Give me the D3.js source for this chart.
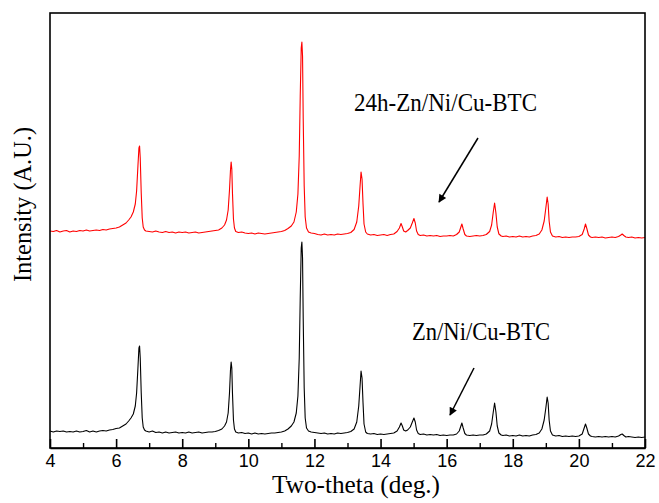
<!DOCTYPE html>
<html>
<head>
<meta charset="utf-8">
<script src="https://cdn.jsdelivr.net/npm/d3@7/dist/d3.min.js"></script>
<style>
  html, body { margin: 0; padding: 0; background: #fff; }
  svg { display: block; }
</style>
</head>
<body>
<svg id="chart" width="659" height="503"></svg>
<script>
// ---- Data ----
const xTicks = [4, 6, 8, 10, 12, 14, 16, 18, 20, 22];
const xMinorTicks = [5, 7, 9, 11, 13, 15, 17, 19, 21];

// Zn/Ni/Cu-BTC : [2θ, intensity (a.u.)]
const seriesPristine = [
  [4.0,17],[4.1,16],[4.2,17],[4.3,16.5],[4.4,17],[4.5,16],[4.6,16.5],[4.7,16],[4.8,17],[4.9,16],
  [5.0,16.5],[5.1,17.5],[5.2,16],[5.3,17],[5.4,16],[5.5,17],[5.6,17.5],[5.7,17],[5.8,18],[5.9,18.5],
  [6.0,19.5],[6.1,20],[6.2,22],[6.3,24],[6.38,27],[6.45,30],[6.52,34],[6.58,42],[6.62,55],[6.66,80],
  [6.69,100],[6.71,102],[6.73,90],[6.76,55],[6.79,30],[6.82,21],[6.86,18],[6.9,17],[7.0,16],[7.1,17],
  [7.2,15.5],[7.3,16],[7.4,15],[7.5,16],[7.6,15],[7.7,15.5],[7.8,16],[7.9,15],[8.0,15.5],[8.1,15],
  [8.2,16],[8.3,15],[8.4,15.5],[8.5,16],[8.6,15],[8.7,15.5],[8.8,16],[8.9,16],[9.0,16.5],[9.1,17.5],
  [9.2,19],[9.28,22],[9.34,26],[9.39,35],[9.43,55],[9.46,78],[9.48,86],[9.5,80],[9.52,55],[9.55,28],
  [9.58,19],[9.62,16],[9.7,15],[9.8,15.5],[9.9,14.5],[10.0,15],[10.1,14],[10.2,15],[10.3,14],[10.4,14.5],
  [10.5,14],[10.6,14.5],[10.7,15],[10.8,15],[10.9,15.5],[11.0,16],[11.1,17],[11.2,19],[11.3,22],[11.38,26],
  [11.45,35],[11.5,52],[11.54,90],[11.57,150],[11.6,200],[11.62,206],[11.64,190],[11.66,130],[11.69,60],[11.72,30],
  [11.76,20],[11.82,17],[11.9,16],[12.0,15.5],[12.1,15],[12.2,14.5],[12.3,15],[12.4,14],[12.5,14.5],[12.6,14],
  [12.7,15],[12.8,14.5],[12.9,15],[13.0,15.5],[13.1,16.5],[13.2,19],[13.28,26],[13.34,42],[13.38,62],[13.41,77],
  [13.44,70],[13.47,45],[13.5,24],[13.55,16],[13.6,14.5],[13.7,14],[13.8,14.5],[13.9,13.5],[14.0,14],[14.1,13.5],
  [14.2,14],[14.3,14.5],[14.4,15],[14.5,17],[14.57,21],[14.62,25],[14.66,22],[14.7,18],[14.76,17],[14.82,18],
  [14.9,21],[14.96,26],[15.01,30],[15.05,26],[15.09,18],[15.14,14.5],[15.2,13.5],[15.3,14],[15.4,13],[15.5,13.5],
  [15.6,13],[15.7,13.5],[15.8,12.5],[15.9,13],[16.0,12.5],[16.1,13],[16.2,13],[16.3,14],[16.38,17],[16.43,22],
  [16.46,25],[16.5,20],[16.55,14.5],[16.6,13],[16.7,12.5],[16.8,13],[16.9,12.5],[17.0,13],[17.1,13],[17.2,14],
  [17.3,17],[17.36,24],[17.41,36],[17.45,45],[17.49,36],[17.53,22],[17.58,15],[17.65,13],[17.7,12.5],[17.8,13],
  [17.9,12],[18.0,12.5],[18.1,12],[18.2,13],[18.3,12],[18.4,12.5],[18.5,12],[18.6,13],[18.7,13.5],[18.8,15],
  [18.88,19],[18.95,28],[19.0,40],[19.04,51],[19.07,45],[19.1,28],[19.14,17],[19.2,13],[19.3,12],[19.4,12.5],
  [19.5,11.5],[19.6,12],[19.7,11.5],[19.8,12],[19.9,11.5],[20.0,12],[20.1,14],[20.16,20],[20.2,24],[20.24,20],
  [20.29,14],[20.35,12],[20.4,11.5],[20.5,11],[20.6,11.5],[20.7,11],[20.8,11.5],[20.9,11],[21.0,11.5],[21.1,11],
  [21.2,12],[21.27,13.5],[21.31,14],[21.36,12.5],[21.42,11],[21.5,11.5],[21.6,11],[21.7,10.5],[21.8,11],[21.9,10.5],
  [22.0,11]
];

// 24h-Zn/Ni/Cu-BTC : [2θ, intensity (a.u.)]
const series24h = [
  [4.0,217],[4.1,216.5],[4.2,217.5],[4.3,216],[4.4,217],[4.5,217.5],[4.6,216],[4.7,217],[4.8,216.5],[4.9,217.5],
  [5.0,217],[5.1,218],[5.2,217],[5.3,217.5],[5.4,218],[5.5,217.5],[5.6,218.5],[5.7,218],[5.8,219],[5.9,219.5],
  [6.0,220],[6.1,221],[6.2,223],[6.3,225],[6.38,228],[6.45,231],[6.52,236],[6.58,244],[6.62,257],[6.66,282],
  [6.69,300],[6.71,302],[6.73,290],[6.76,255],[6.79,230],[6.82,221],[6.86,218],[6.9,217],[7.0,216.5],[7.1,216],
  [7.2,217],[7.3,216],[7.4,215.5],[7.5,216.5],[7.6,215.5],[7.7,216],[7.8,215],[7.9,216],[8.0,215.5],[8.1,216],
  [8.2,215],[8.3,215.5],[8.4,216],[8.5,215],[8.6,215.5],[8.7,216],[8.8,216.5],[8.9,217],[9.0,217.5],[9.1,218],
  [9.2,220],[9.28,223],[9.34,228],[9.39,238],[9.43,258],[9.46,278],[9.48,286],[9.5,279],[9.52,255],[9.55,229],
  [9.58,220],[9.62,216.5],[9.7,215.5],[9.8,216],[9.9,215],[10.0,214.5],[10.1,215],[10.2,214],[10.3,215],[10.4,214.5],
  [10.5,214],[10.6,214.5],[10.7,215],[10.8,215.5],[10.9,216],[11.0,216.5],[11.1,217.5],[11.2,219.5],[11.3,222],[11.38,226],
  [11.45,236],[11.5,254],[11.54,292],[11.57,352],[11.6,400],[11.62,406],[11.64,392],[11.66,330],[11.69,262],[11.72,231],
  [11.76,220],[11.82,216],[11.9,215],[12.0,214.5],[12.1,213.5],[12.2,213],[12.3,214],[12.4,213],[12.5,213.5],[12.6,213],
  [12.7,214],[12.8,213.5],[12.9,214],[13.0,214.5],[13.1,215.5],[13.2,218.5],[13.28,226],[13.34,242],[13.38,262],[13.41,276],
  [13.44,269],[13.47,244],[13.5,224],[13.55,216],[13.6,214],[13.7,213],[13.8,213.5],[13.9,212.5],[14.0,213],[14.1,213.5],
  [14.2,212.5],[14.3,213.5],[14.4,214],[14.5,216.5],[14.57,220],[14.62,224.5],[14.66,221],[14.7,217],[14.76,216],[14.82,217.5],
  [14.9,220],[14.96,225],[15.01,229.5],[15.05,225],[15.09,217],[15.14,213.5],[15.2,212.5],[15.3,213],[15.4,212],[15.5,212.5],
  [15.6,212],[15.7,212.5],[15.8,211.5],[15.9,212],[16.0,212],[16.1,212.5],[16.2,212],[16.3,213.5],[16.38,216],[16.43,221],
  [16.46,224],[16.5,219],[16.55,213.5],[16.6,212],[16.7,211.5],[16.8,212],[16.9,212.5],[17.0,212],[17.1,212.5],[17.2,213.5],
  [17.3,216.5],[17.36,223],[17.41,236],[17.45,245],[17.49,235],[17.53,221],[17.58,214],[17.65,212],[17.7,211.5],[17.8,212],
  [17.9,211],[18.0,211.5],[18.1,211],[18.2,212],[18.3,211],[18.4,211.5],[18.5,211],[18.6,212],[18.7,212.5],[18.8,214],
  [18.88,218],[18.95,227],[19.0,240],[19.04,251],[19.07,244],[19.1,227],[19.14,216],[19.2,212],[19.3,211],[19.4,211.5],
  [19.5,210.5],[19.6,211],[19.7,210.5],[19.8,211],[19.9,211],[20.0,211.5],[20.1,213.5],[20.16,219],[20.2,224],[20.24,219.5],
  [20.29,213],[20.35,211],[20.4,210.5],[20.5,211],[20.6,210.5],[20.7,211],[20.8,210],[20.9,210.5],[21.0,211],[21.1,210.5],
  [21.2,211.5],[21.27,213],[21.31,214],[21.36,212.5],[21.42,211],[21.5,210.5],[21.6,211],[21.7,210],[21.8,210.5],[21.9,210],
  [22.0,210.5]
];

const labels = ["24h-Zn/Ni/Cu-BTC", "Zn/Ni/Cu-BTC"];
const xTitle = "Two-theta (deg.)";
const yTitle = "Intensity (A.U.)";

// ---- Layout ----
const svg = d3.select("#chart");
const plotLeft = 50, plotRight = 645, plotTop = 13, plotBottom = 448;

const x = d3.scaleLinear().domain([4, 22]).range([plotLeft, plotRight]);
const y = d3.scaleLinear().domain([0, 435]).range([plotBottom, plotTop]);

const line = d3.line().x(d => x(d[0])).y(d => y(d[1]));

// curves
svg.append("path").datum(series24h)
  .attr("d", line).attr("fill", "none")
  .attr("stroke", "#ff0000").attr("stroke-width", 1.1).attr("stroke-linejoin", "round");
svg.append("path").datum(seriesPristine)
  .attr("d", line).attr("fill", "none")
  .attr("stroke", "#000").attr("stroke-width", 1.1).attr("stroke-linejoin", "round");

// frame
svg.append("rect")
  .attr("x", plotLeft).attr("y", plotTop)
  .attr("width", plotRight - plotLeft).attr("height", plotBottom - plotTop)
  .attr("fill", "none").attr("stroke", "#000").attr("stroke-width", 1.6);

// x axis (ticks inward)
const xAxis = svg.append("g").attr("transform", `translate(0,${plotBottom})`)
  .call(d3.axisBottom(x).tickValues(xTicks).tickSizeInner(-9).tickSizeOuter(0).tickPadding(6)
    .tickFormat(d3.format("d")));
xAxis.select(".domain").attr("stroke-width", 1.6);
xAxis.selectAll(".tick line").attr("stroke-width", 1.6);
xAxis.selectAll(".tick text")
  .attr("font-family", "'Liberation Sans', Arial, sans-serif")
  .attr("font-size", 18).attr("fill", "#000");

const xMinor = svg.append("g").attr("transform", `translate(0,${plotBottom})`)
  .call(d3.axisBottom(x).tickValues(xMinorTicks).tickSizeInner(-5).tickSizeOuter(0).tickFormat(""));
xMinor.select(".domain").remove();
xMinor.selectAll(".tick line").attr("stroke-width", 1.4);

// axis titles
svg.append("text")
  .attr("x", 272).attr("y", 493)
  .attr("font-family", "'Liberation Serif', 'Times New Roman', serif")
  .attr("font-size", 25)
  .attr("textLength", 168).attr("lengthAdjust", "spacingAndGlyphs")
  .text(xTitle);

svg.append("text")
  .attr("transform", "translate(31,282) rotate(-90)")
  .attr("font-family", "'Liberation Serif', 'Times New Roman', serif")
  .attr("font-size", 25)
  .attr("textLength", 155).attr("lengthAdjust", "spacingAndGlyphs")
  .text(yTitle);

// series labels
svg.append("text")
  .attr("x", 354).attr("y", 111)
  .attr("font-family", "'Liberation Serif', 'Times New Roman', serif")
  .attr("font-size", 26)
  .attr("textLength", 183).attr("lengthAdjust", "spacingAndGlyphs")
  .text(labels[0]);

svg.append("text")
  .attr("x", 412).attr("y", 340)
  .attr("font-family", "'Liberation Serif', 'Times New Roman', serif")
  .attr("font-size", 25)
  .attr("textLength", 138).attr("lengthAdjust", "spacingAndGlyphs")
  .text(labels[1]);

// arrows
const defs = svg.append("defs");
defs.append("marker")
  .attr("id", "arrowhead")
  .attr("viewBox", "0 0 10 10").attr("refX", 9).attr("refY", 5)
  .attr("markerWidth", 11).attr("markerHeight", 8)
  .attr("markerUnits", "userSpaceOnUse")
  .attr("orient", "auto")
  .append("path").attr("d", "M0,0 L10,5 L0,10 Z").attr("fill", "#000");

const arrows = [
  { x1: 478, y1: 138, x2: 439, y2: 202 },
  { x1: 474, y1: 368, x2: 450, y2: 415 }
];
svg.selectAll("line.arrow").data(arrows).enter().append("line")
  .attr("class", "arrow")
  .attr("x1", d => d.x1).attr("y1", d => d.y1)
  .attr("x2", d => d.x2).attr("y2", d => d.y2)
  .attr("stroke", "#000").attr("stroke-width", 1.5)
  .attr("marker-end", "url(#arrowhead)");
</script>
</body>
</html>
